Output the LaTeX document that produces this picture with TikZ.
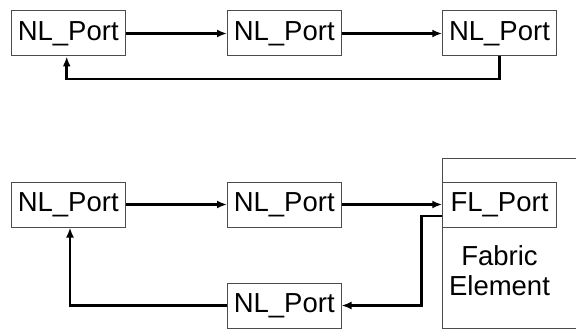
\documentclass[tikz,border=0pt]{standalone}
\usepackage{fontspec}
\setmainfont{Liberation Sans}
\usetikzlibrary{arrows.meta}
\tikzset{
  port/.style={draw=black!70, line width=1pt, minimum width=113.5pt, minimum height=45pt, inner sep=0pt, font=\fontsize{27.5}{30}\selectfont},
  link/.style={line width=2.8pt, -{Latex[length=10pt,width=8pt]}},
}
\begin{document}
\begin{tikzpicture}[x=1pt,y=-1pt]
\useasboundingbox (0,0) rectangle (576,329);
% top ring
\node[port] (a1) at (68.25,33.5) {NL\_Port};
\node[port] (a2) at (284.25,33.5) {NL\_Port};
\node[port] (a3) at (499.5,33.5) {NL\_Port};
\draw[link] (a1) -- (a2);
\draw[link] (a2) -- (a3);
\coordinate (r1) at (499.3,79);
\coordinate (r2) at (66.7,79);
\draw[link] (a3.south -| r1) -- (r1) -- (r2) -- (r2 |- a1.south);
% bottom
\draw[draw=black!70, line width=1pt] (577,158) -- (442,158) -- (442,328) -- (577,328);
\node[port] (b1) at (68.25,204.5) {NL\_Port};
\node[port] (b2) at (284.25,204.5) {NL\_Port};
\node[port] (fl) at (499.5,204.5) {FL\_Port};
\node[port] (b3) at (284.25,305.5) {NL\_Port};
\node[font=\fontsize{27.5}{30}\selectfont, align=center] (fab) at (499.5,271) {Fabric\\Element};
\draw[link] (b1) -- (b2);
\draw[link] (b2) -- (fl);
\coordinate (f1) at (421.7,216);
\coordinate (f2) at (421.7,305.5);
\draw[link] (fl.west |- f1) -- (f1) -- (f2) -- (b3.east);
\coordinate (g1) at (70,305.5);
\draw[link] (b3.west) -- (g1) -- (g1 |- b1.south);
\end{tikzpicture}
\end{document}
